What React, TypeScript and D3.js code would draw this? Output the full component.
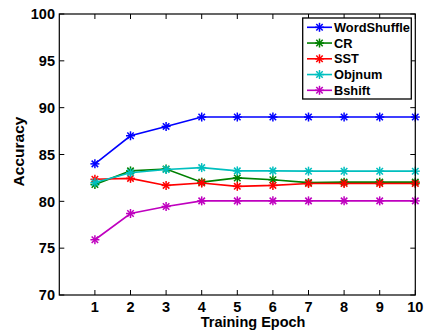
import React from 'react';
import * as d3 from 'd3';

const epochs = [1, 2, 3, 4, 5, 6, 7, 8, 9, 10];
const wordShuffle = [84.0, 87.0, 88.0, 89.0, 89.0, 89.0, 89.0, 89.0, 89.0, 89.0];
const cr = [81.8, 83.25, 83.45, 82.05, 82.5, 82.3, 82.0, 82.05, 82.05, 82.05];
const sst = [82.35, 82.45, 81.7, 81.95, 81.6, 81.7, 81.9, 81.9, 81.9, 81.9];
const objnum = [82.0, 83.05, 83.4, 83.6, 83.25, 83.25, 83.22, 83.22, 83.22, 83.22];
const bshift = [75.9, 78.7, 79.45, 80.05, 80.05, 80.05, 80.05, 80.05, 80.05, 80.05];
const yTicks = [70, 75, 80, 85, 90, 95, 100];

const seriesNames = ['WordShuffle', 'CR', 'SST', 'Objnum', 'Bshift'];
const seriesValues = [wordShuffle, cr, sst, objnum, bshift];
const seriesColors = ['#0000ff', '#008000', '#ff0000', '#00bfbf', '#bf00bf'];

const left = 59.3, right = 415.3, top = 14, bottom = 295;
const font = '"Liberation Sans", Arial, sans-serif';

// matlab style '*' marker: plus + cross
const Star = ({ cx, cy, color }: { cx: number; cy: number; color: string }) => {
  const r = 4.5, d = r * 0.72;
  return (
    <g stroke={color} strokeWidth={1.5}>
      <line x1={cx - r} y1={cy} x2={cx + r} y2={cy} />
      <line x1={cx} y1={cy - r} x2={cx} y2={cy + r} />
      <line x1={cx - d} y1={cy - d} x2={cx + d} y2={cy + d} />
      <line x1={cx - d} y1={cy + d} x2={cx + d} y2={cy - d} />
    </g>
  );
};

export default function App() {
  const x = d3.scaleLinear().domain([0, 10]).range([left, right]);
  const y = d3.scaleLinear().domain([70, 100]).range([bottom, top]);
  const line = d3.line<number>().x((_, i) => x(epochs[i])).y(v => y(v));
  const tick = 5;

  const lgX = 302.7, lgY = 18, lgW = 108.6, lgH = 81;

  return (
    <svg width={425} height={330} style={{ position: 'absolute', left: 0, top: 0, background: '#fff' }}
      fontFamily={font} fontWeight="bold">
      {/* ticks */}
      {epochs.map(e => (
        <g key={'xt' + e} stroke="#000" strokeWidth={1}>
          <line x1={x(e)} x2={x(e)} y1={bottom} y2={bottom - tick} />
          <line x1={x(e)} x2={x(e)} y1={top} y2={top + tick} />
        </g>
      ))}
      {yTicks.map(t => (
        <g key={'yt' + t} stroke="#000" strokeWidth={1}>
          <line x1={left} x2={left + tick} y1={y(t)} y2={y(t)} />
          <line x1={right} x2={right - tick} y1={y(t)} y2={y(t)} />
        </g>
      ))}
      {/* series */}
      {seriesValues.map((vals, si) => (
        <g key={seriesNames[si]}>
          <path d={line(vals) || ''} fill="none" stroke={seriesColors[si]} strokeWidth={1.6} />
          {vals.map((v, i) => (
            <Star key={i} cx={x(epochs[i])} cy={y(v)} color={seriesColors[si]} />
          ))}
        </g>
      ))}
      <rect x={left} y={top} width={right - left} height={bottom - top} fill="none" stroke="#000" strokeWidth={1.2} />
      {/* tick labels */}
      {yTicks.map(t => (
        <text key={'yl' + t} x={55} y={y(t)} dy="0.36em" textAnchor="end" fontSize={14.5}>{t}</text>
      ))}
      {epochs.map(e => (
        <text key={'xl' + e} x={x(e)} y={311.5} textAnchor="middle" fontSize={14.5}>{e}</text>
      ))}
      <text x={x(5.5) - 2} y={327} textAnchor="middle" fontSize={14.5}>Training Epoch</text>
      <text transform={`translate(24,${(top + bottom) / 2 - 3}) rotate(-90)`} textAnchor="middle" fontSize={15.5}>Accuracy</text>
      {/* legend */}
      <rect x={lgX} y={lgY} width={lgW} height={lgH} fill="#fff" stroke="#000" strokeWidth={1.3} />
      {seriesNames.map((name, i) => {
        const ly = 27.3 + i * 15.75;
        return (
          <g key={'lg' + name}>
            <line x1={307} x2={332} y1={ly} y2={ly} stroke={seriesColors[i]} strokeWidth={1.6} />
            <Star cx={319.5} cy={ly} color={seriesColors[i]} />
            <text x={334} y={ly} dy="0.36em" fontSize={12.8}>{name}</text>
          </g>
        );
      })}
    </svg>
  );
}
